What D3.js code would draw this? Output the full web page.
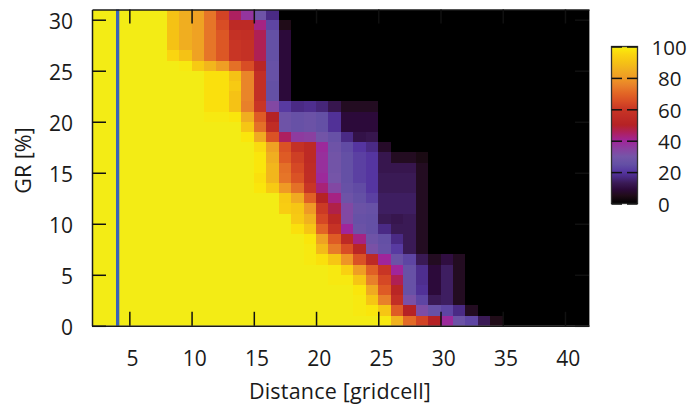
<!DOCTYPE html>
<html><head><meta charset="utf-8">
<script src="https://cdnjs.cloudflare.com/ajax/libs/d3/7.8.5/d3.min.js"></script>
<style>html,body{margin:0;padding:0;background:#fff;overflow:hidden}svg{display:block}text{font-family:"Open Sans",sans-serif;fill:#1a1a1a}</style>
</head><body><svg id="c" width="688" height="405"></svg>
<script>
const columns = [2,3,4,5,6,7,8,9,10,11,12,13,14,15,16,17,18,19,20,21,22,23,24,25,26,27,28,29,30,31,32,33,34,35,36,37,38,39,40,41];
const xTickValues = [5,10,15,20,25,30,35,40];
const yTickValues = [0,5,10,15,20,25,30];
const legendTicks = [0,20,40,60,80,100];
const xTitle = "Distance [gridcell]";
const yTitle = "GR [%]";
const markerDistance = 4.06;
const paletteStops = [0,5,9,13,17,20,25,30,35,40,45,50,60,65,70,75,80,85,90,95,98,100];
const paletteColors = ["#000000","#200c18","#2c0a3a","#3a1a55","#4a2a85","#5535a0","#6450a5","#7555a8","#8a40a0","#a0259a","#ad2060","#b52225","#c83525","#d84d25","#e26525","#e8802a","#ef9a25","#f0ae20","#f5c215","#fad510","#fae60c","#f3ec15"];
const row0 =  [100,100,100,100,100,100,100,100,100,100,100,100,100,100,100,100,100,100,100,100,100,100,100,99,86,71,63,50,39,27,23,13,5,0,0,0,0,0,0,0];
const row1 =  [100,100,100,100,100,100,100,100,100,100,100,100,100,100,100,100,100,100,100,100,100,99,98,91,68,50,32,26,23,17,6,0,0,0,0,0,0,0,0,0];
const row2 =  [100,100,100,100,100,100,100,100,100,100,100,100,100,100,100,100,100,100,100,100,100,99,91,75,57,31,23,13,14,6,0,0,0,0,0,0,0,0,0,0];
const row3 =  [100,100,100,100,100,100,100,100,100,100,100,100,100,100,100,100,100,100,100,100,100,98,84,68,52,26,19,9,14,6,0,0,0,0,0,0,0,0,0,0];
const row4 =  [100,100,100,100,100,100,100,100,100,100,100,100,100,100,100,100,100,100,100,99,99,91,75,64,46,26,18,9,14,6,0,0,0,0,0,0,0,0,0,0];
const row5 =  [100,100,100,100,100,100,100,100,100,100,100,100,100,100,100,100,100,100,100,99,94,81,69,60,40,26,18,9,14,6,0,0,0,0,0,0,0,0,0,0];
const row6 =  [100,100,100,100,100,100,100,100,100,100,100,100,100,100,100,100,100,99,97,91,79,66,54,40,27,23,13,6,10,6,0,0,0,0,0,0,0,0,0,0];
const row7 =  [100,100,100,100,100,100,100,100,100,100,100,100,100,100,100,100,100,99,88,74,65,52,31,26,21,13,6,0,0,0,0,0,0,0,0,0,0,0,0,0];
const row8 =  [100,100,100,100,100,100,100,100,100,100,100,100,100,100,100,100,100,98,82,68,54,42,28,25,17,13,6,0,0,0,0,0,0,0,0,0,0,0,0,0];
const row9 =  [100,100,100,100,100,100,100,100,100,100,100,100,100,100,100,100,97,91,70,59,40,27,25,17,13,13,6,0,0,0,0,0,0,0,0,0,0,0,0,0];
const row10 = [100,100,100,100,100,100,100,100,100,100,100,100,100,100,100,100,92,86,64,53,33,26,25,13,12,13,6,0,0,0,0,0,0,0,0,0,0,0,0,0];
const row11 = [100,100,100,100,100,100,100,100,100,100,100,100,100,100,100,93,91,80,61,47,33,27,26,14,14,14,6,0,0,0,0,0,0,0,0,0,0,0,0,0];
const row12 = [100,100,100,100,100,100,100,100,100,100,100,100,100,100,100,92,84,69,50,42,28,25,22,14,14,14,6,0,0,0,0,0,0,0,0,0,0,0,0,0];
const row13 = [100,100,100,100,100,100,100,100,100,100,100,100,100,98,92,80,72,60,43,33,26,24,20,13,13,13,6,0,0,0,0,0,0,0,0,0,0,0,0,0];
const row14 = [100,100,100,100,100,100,100,100,100,100,100,100,100,97,87,73,66,56,39,30,25,22,20,13,13,13,6,0,0,0,0,0,0,0,0,0,0,0,0,0];
const row15 = [100,100,100,100,100,100,100,100,100,100,100,100,100,98,87,72,64,55,38,29,25,22,20,12,12,12,6,0,0,0,0,0,0,0,0,0,0,0,0,0];
const row16 = [100,100,100,100,100,100,100,100,100,100,100,100,100,98,85,68,62,54,38,29,25,22,20,12,6,6,4,0,0,0,0,0,0,0,0,0,0,0,0,0];
const row17 = [100,100,100,100,100,100,100,100,100,100,100,100,100,96,82,66,58,54,39,28,24,20,17,7,0,0,0,0,0,0,0,0,0,0,0,0,0,0,0,0];
const row18 = [100,100,100,100,100,100,100,100,100,100,100,100,98,84,66,45,36,35,29,26,17,11,12,0,0,0,0,0,0,0,0,0,0,0,0,0,0,0,0,0];
const row19 = [100,100,100,100,100,100,100,100,100,100,100,100,91,72,55,28,26,27,25,19,9,9,9,0,0,0,0,0,0,0,0,0,0,0,0,0,0,0,0,0];
const row20 = [100,100,100,100,100,100,100,100,100,99,99,98,85,68,50,28,26,27,25,19,9,9,9,0,0,0,0,0,0,0,0,0,0,0,0,0,0,0,0,0];
const row21 = [100,100,100,100,100,100,100,100,100,97,97,90,75,60,33,21,17,18,16,12,6,6,6,0,0,0,0,0,0,0,0,0,0,0,0,0,0,0,0,0];
const row22 = [100,100,100,100,100,100,100,100,100,97,97,90,76,57,25,9,0,0,0,0,0,0,0,0,0,0,0,0,0,0,0,0,0,0,0,0,0,0,0,0];
const row23 = [100,100,100,100,100,100,100,100,100,97,97,92,76,57,25,9,0,0,0,0,0,0,0,0,0,0,0,0,0,0,0,0,0,0,0,0,0,0,0,0];
const row24 = [100,100,100,100,100,100,100,100,100,97,97,90,76,57,26,9,0,0,0,0,0,0,0,0,0,0,0,0,0,0,0,0,0,0,0,0,0,0,0,0];
const row25 = [100,100,100,100,100,100,100,99,92,87,81,72,65,52,26,9,0,0,0,0,0,0,0,0,0,0,0,0,0,0,0,0,0,0,0,0,0,0,0,0];
const row26 = [100,100,100,100,100,100,95,90,82,73,67,60,58,46,25,9,0,0,0,0,0,0,0,0,0,0,0,0,0,0,0,0,0,0,0,0,0,0,0,0];
const row27 = [100,100,100,100,100,100,90,85,82,73,67,60,58,46,25,9,0,0,0,0,0,0,0,0,0,0,0,0,0,0,0,0,0,0,0,0,0,0,0,0];
const row28 = [100,100,100,100,100,100,90,85,82,73,67,58,57,46,25,9,0,0,0,0,0,0,0,0,0,0,0,0,0,0,0,0,0,0,0,0,0,0,0,0];
const row29 = [100,100,100,100,100,100,90,85,82,73,65,54,54,42,23,5,0,0,0,0,0,0,0,0,0,0,0,0,0,0,0,0,0,0,0,0,0,0,0,0];
const row30 = [100,100,100,100,100,100,90,85,82,73,63,45,37,28,17,0,0,0,0,0,0,0,0,0,0,0,0,0,0,0,0,0,0,0,0,0,0,0,0,0];
const grid = [row0,row1,row2,row3,row4,row5,row6,row7,row8,row9,row10,row11,row12,row13,row14,row15,row16,row17,row18,row19,row20,row21,row22,row23,row24,row25,row26,row27,row28,row29,row30];

const svg = d3.select("#c");
const L = 92, R = 589, T = 9.5, B = 325.8;
const x = d3.scaleLinear().domain([2, 41.93]).range([L, R]);
const y = d3.scaleLinear().domain([0, 31]).range([B, T]);
const color = d3.scaleLinear().domain(paletteStops).range(paletteColors);

svg.append("defs").append("clipPath").attr("id","plot").append("rect")
  .attr("x",L).attr("y",T).attr("width",R-L).attr("height",B-T);

const cells = svg.append("g").attr("clip-path","url(#plot)").attr("shape-rendering","crispEdges");
grid.forEach((vals, r) => {
  cells.selectAll(null).data(vals).enter().append("rect")
    .attr("x",(d,i)=>x(columns[i]))
    .attr("y",y(r+1))
    .attr("width",(d,i)=>x(columns[i]+1)-x(columns[i]))
    .attr("height",y(r)-y(r+1))
    .attr("fill",d=>color(d));
});

svg.append("line")
  .attr("x1",x(markerDistance)).attr("x2",x(markerDistance))
  .attr("y1",T).attr("y2",B)
  .attr("stroke","#3a62b8").attr("stroke-width",3.3);

function style(g){
  g.selectAll("path").attr("stroke","#1a1a1a").attr("stroke-width",1.5);
  g.selectAll("line").attr("stroke","#111").attr("stroke-width",1.5);
  g.selectAll("text").attr("font-size",21).attr("font-family",'"Open Sans",sans-serif').attr("fill","#1a1a1a");
}
const ax = svg.append("g");
ax.append("g").attr("transform",`translate(${R},0)`)
  .call(d3.axisRight(y).tickValues(yTickValues).tickSize(-14).tickFormat("").tickSizeOuter(0)).call(style)
  .call(g=>g.select("path").attr("stroke","#9a9a9a").attr("stroke-width",1));
ax.append("g").attr("transform",`translate(0,${B})`)
  .call(d3.axisBottom(x).tickValues(xTickValues).tickSize(-14).tickPadding(25).tickSizeOuter(0))
  .call(style).call(g=>g.selectAll("text").attr("dx",2.7));
ax.append("g").attr("transform",`translate(0,${T})`)
  .call(d3.axisTop(x).tickValues(xTickValues).tickSize(-14).tickFormat("").tickSizeOuter(0)).call(style);
ax.append("g").attr("transform",`translate(${L},0)`)
  .call(d3.axisLeft(y).tickValues(yTickValues).tickSize(-14).tickPadding(19).tickSizeOuter(0))
  .call(style).call(g=>g.selectAll("text").attr("dy","0.4em"));

svg.append("text").attr("x",340).attr("y",398.5).attr("text-anchor","middle").attr("font-size",21.5).attr("letter-spacing",0.2).text(xTitle);
svg.append("text").attr("transform","translate(30.7,160.5) rotate(-90)").attr("text-anchor","middle").attr("font-size",21.5).text(yTitle);

// colour box
const lx0 = 611.5, lx1 = 637.5, ly0 = 46.5, ly1 = 203.5;
const ly = d3.scaleLinear().domain([0,100]).range([ly1,ly0]);
const grad = svg.select("defs").append("linearGradient").attr("id","lg").attr("x1",0).attr("x2",0).attr("y1",1).attr("y2",0);
paletteStops.forEach((s,i)=>grad.append("stop").attr("offset",s/100).attr("stop-color",paletteColors[i]));
svg.append("rect").attr("x",lx0).attr("y",ly0).attr("width",lx1-lx0).attr("height",ly1-ly0)
  .attr("fill","url(#lg)").attr("stroke","#333").attr("stroke-width",1.3);
const leg = svg.append("g");
leg.append("g").attr("transform",`translate(${lx1},0)`)
  .call(d3.axisRight(ly).tickValues(legendTicks).tickSize(-10.5).tickPadding(20.5).tickSizeOuter(0))
  .call(style).call(g=>g.select("path").remove())
  .call(g=>g.selectAll("text").attr("font-size",20.5).attr("dy","0.38em").attr("dx",d=>d===100?-6.5:0));
leg.append("g").attr("transform",`translate(${lx0},0)`)
  .call(d3.axisLeft(ly).tickValues(legendTicks).tickSize(-10.5).tickFormat("").tickSizeOuter(0))
  .call(style).call(g=>g.select("path").remove());
</script></body></html>
